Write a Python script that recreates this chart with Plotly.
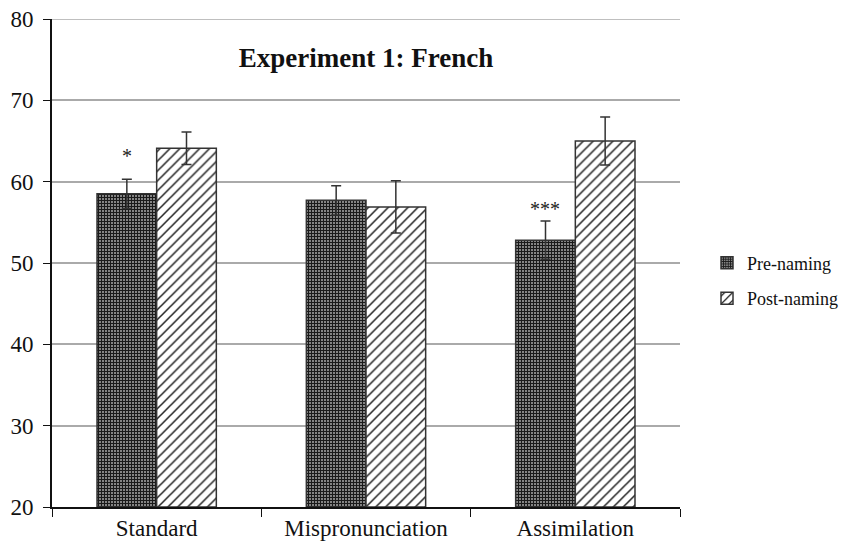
import plotly.graph_objects as go

categories = ["Standard", "Mispronunciation", "Assimilation"]
pre_naming = [58.5, 57.7, 52.8]
pre_err = [1.8, 1.8, 2.35]
post_naming = [64.1, 56.9, 65.0]
post_err = [2.0, 3.2, 2.95]
sig_labels = ["*", "", "***"]
sig_y = [63.2, None, 56.7]
y_min, y_max = 20, 80

FONT = "Liberation Serif, Times New Roman, serif"

# the page body has an 8px margin, so the figure is sized to fit the window
W, H = 841, 537

fig = go.Figure()
fig.add_trace(go.Bar(
    name="Pre-naming", x=categories, y=[v - y_min for v in pre_naming], base=y_min,
    legendgroup="a",
    marker=dict(color="white", line=dict(color="#333333", width=1.5),
                pattern=dict(shape="+", size=3, solidity=0.6, fgcolor="#1a1a1a", bgcolor="#8a8a8a", fillmode="replace")),
    error_y=dict(type="data", array=pre_err, color="#333333", thickness=1.5, width=5),
))
fig.add_trace(go.Bar(
    name="Post-naming", x=categories, y=[v - y_min for v in post_naming], base=y_min,
    legendgroup="b",
    marker=dict(color="white", line=dict(color="#333333", width=1.5),
                pattern=dict(shape="/", size=7, solidity=0.22, fgcolor="#222222", bgcolor="white", fillmode="replace")),
    error_y=dict(type="data", array=post_err, color="#333333", thickness=1.5, width=5),
))

for c, lab, yv in zip(categories, sig_labels, sig_y):
    if lab:
        fig.add_annotation(x=c, y=yv, xref="x", yref="y", text=lab, showarrow=False,
                           xshift=-30, font=dict(family=FONT, size=20, color="#222222"))

# top gridline at the range edge
fig.add_shape(type="line", xref="paper", yref="y", x0=0, x1=1, y0=y_max, y1=y_max,
              line=dict(color="#aaaaaa", width=1.5))

fig.update_layout(
    width=W, height=H,
    margin=dict(l=44, r=169, t=11, b=38, autoexpand=False),
    paper_bgcolor="white", plot_bgcolor="white",
    barmode="group", bargap=0.43, bargroupgap=0,
    font=dict(family=FONT, size=20, color="#111111"),
    title=dict(text="<b>Experiment 1: French</b>", x=358 / W, xanchor="center",
               y=1 - 50 / H, yanchor="middle", font=dict(family=FONT, size=27, color="#111111")),
    legend=dict(x=1.043, xanchor="left", y=0.464, yanchor="middle",
                font=dict(family=FONT, size=18, color="#111111"), itemwidth=30,
                bgcolor="rgba(0,0,0,0)", traceorder="grouped", tracegroupgap=9),
    showlegend=True,
)
fig.update_xaxes(showline=True, linecolor="#111111", linewidth=1.5, ticks="outside",
                 tickson="boundaries", ticklen=8, tickcolor="#111111", showgrid=False,
                 automargin=False, ticklabeloverflow="allow", tickfont=dict(family=FONT, size=23))
fig.update_yaxes(range=[y_min, y_max], dtick=10, showline=True, linecolor="#111111", linewidth=2,
                 ticks="outside", ticklen=7, tickcolor="#111111", showgrid=True,
                 gridcolor="#aaaaaa", gridwidth=1.5, zeroline=False, automargin=False,
                 ticklabeloverflow="allow", ticklabelstandoff=5, tickfont=dict(family=FONT, size=23))

fig.write_html("out.html")
